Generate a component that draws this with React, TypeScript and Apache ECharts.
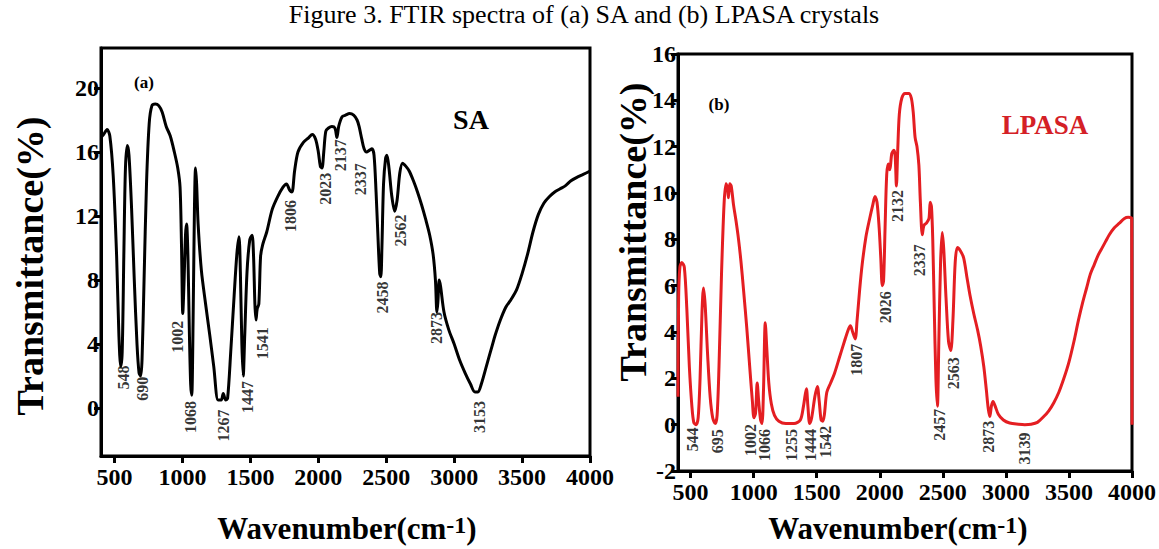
import React, { useEffect, useRef } from "react";
import * as echarts from "echarts";

const titleText = "Figure 3. FTIR spectra of (a) SA and (b) LPASA crystals";
const xTickValues = [500, 1000, 1500, 2000, 2500, 3000, 3500, 4000];
const saYTicks = [0, 4, 8, 12, 16, 20];
const lpYTicks = [-2, 0, 2, 4, 6, 8, 10, 12, 14, 16];

const saSpectrum: [number, number][] = [
  [400, 16.9], [420, 17.1], [445, 17.4], [465, 17.0], [490, 14.5], [515, 9.5], [532, 4.5], [545, 2.6],
  [556, 3.5], [568, 9.5], [580, 15.0], [594, 16.4], [606, 15.8], [625, 12.5], [645, 8.0], [665, 4.0],
  [680, 2.2], [692, 2.0], [702, 3.0], [717, 8.0], [735, 14.0], [755, 17.8], [775, 18.9], [800, 19.0],
  [825, 18.9], [850, 18.5], [880, 17.6], [910, 17.0], [940, 16.0], [965, 15.0], [982, 13.8], [993, 10.0],
  [1002, 5.9], [1010, 7.5], [1022, 10.8], [1030, 11.5], [1040, 9.5], [1050, 5.0], [1060, 1.5], [1068, 0.8],
  [1078, 5.5], [1088, 12.5], [1096, 15.0], [1104, 14.0], [1115, 11.5], [1139, 8.6], [1170, 6.5], [1200, 4.6],
  [1230, 2.6], [1262, 0.5], [1285, 0.5], [1300, 0.9], [1318, 0.5], [1332, 0.6], [1355, 3.5], [1380, 7.0],
  [1400, 9.6], [1416, 10.7], [1426, 8.5], [1437, 4.0], [1447, 2.0], [1458, 4.5], [1475, 8.5], [1495, 10.5],
  [1512, 10.8], [1523, 9.5], [1533, 6.5], [1541, 5.5], [1550, 6.2], [1562, 6.5], [1575, 9.5], [1590, 10.2],
  [1620, 11.0], [1660, 12.4], [1700, 13.2], [1740, 13.8], [1765, 14.0], [1790, 13.6], [1806, 13.5], [1825, 14.8],
  [1850, 16.0], [1890, 16.6], [1930, 16.9], [1955, 17.1], [1980, 16.8], [2000, 16.0], [2015, 15.1], [2027, 15.0],
  [2040, 16.0], [2055, 17.3], [2075, 17.5], [2100, 17.6], [2122, 17.5], [2137, 16.9], [2150, 17.6], [2175, 18.2],
  [2200, 18.3], [2230, 18.4], [2260, 18.3], [2285, 18.0], [2300, 17.6], [2320, 16.8], [2337, 16.2], [2355, 16.0],
  [2375, 16.1], [2395, 16.2], [2410, 15.8], [2425, 13.5], [2440, 10.5], [2452, 8.4], [2460, 8.2], [2468, 10.0],
  [2480, 14.0], [2495, 15.6], [2505, 15.8], [2520, 15.0], [2540, 13.3], [2562, 12.3], [2580, 13.0], [2600, 14.7],
  [2620, 15.3], [2645, 15.1], [2670, 14.8], [2700, 14.2], [2730, 13.5], [2760, 12.7], [2790, 11.8], [2820, 10.8],
  [2845, 9.6], [2862, 8.0], [2873, 6.0], [2880, 6.6], [2890, 8.0], [2900, 7.6], [2925, 6.0], [2960, 4.9],
  [3000, 4.0], [3040, 3.0], [3080, 2.2], [3120, 1.5], [3153, 1.0], [3175, 1.0], [3200, 1.5], [3240, 2.7],
  [3280, 3.9], [3300, 4.5], [3340, 5.5], [3380, 6.3], [3420, 6.8], [3460, 7.4], [3500, 8.4], [3540, 9.6],
  [3580, 11.0], [3620, 12.1], [3660, 12.8], [3700, 13.2], [3740, 13.5], [3780, 13.7], [3820, 13.9], [3860, 14.2],
  [3900, 14.4], [3950, 14.6], [4000, 14.8]
];

const lpasaSpectrum: [number, number][] = [
  [400, 1.2], [405, 5.5], [415, 6.8], [430, 7.0], [450, 6.8], [470, 5.0], [490, 2.5], [510, 0.8],
  [525, 0.1], [544, 0.0], [560, 0.3], [575, 2.0], [590, 4.8], [602, 5.9], [615, 5.2], [635, 3.0],
  [655, 1.2], [675, 0.3], [695, 0.05], [710, 0.4], [725, 2.5], [745, 6.5], [765, 9.5], [780, 10.4],
  [792, 10.2], [800, 9.8], [810, 10.4], [822, 10.3], [840, 9.5], [860, 8.8], [880, 8.0], [900, 7.0],
  [920, 5.8], [945, 4.2], [970, 2.4], [990, 1.0], [1002, 0.3], [1015, 0.5], [1028, 1.8], [1040, 1.0],
  [1055, 0.2], [1066, 0.05], [1078, 1.5], [1092, 4.4], [1105, 3.2], [1120, 1.8], [1140, 0.9], [1165, 0.4],
  [1200, 0.15], [1255, 0.05], [1320, 0.05], [1370, 0.2], [1395, 0.8], [1418, 1.55], [1430, 0.8], [1444, 0.05],
  [1460, 0.3], [1485, 1.2], [1505, 1.65], [1520, 1.0], [1535, 0.2], [1548, 0.15], [1560, 0.4], [1580, 1.4],
  [1610, 1.8], [1640, 2.2], [1680, 2.9], [1720, 3.6], [1750, 4.1], [1767, 4.27], [1785, 4.0], [1805, 3.7],
  [1820, 4.5], [1840, 5.8], [1860, 6.9], [1890, 8.1], [1920, 8.9], [1945, 9.5], [1962, 9.85], [1978, 9.6],
  [1995, 8.5], [2008, 7.2], [2020, 6.0], [2030, 6.2], [2042, 8.5], [2055, 10.8], [2068, 11.25], [2080, 11.0],
  [2095, 11.7], [2112, 11.85], [2122, 11.6], [2132, 10.3], [2142, 11.8], [2155, 13.4], [2175, 14.1], [2200, 14.3],
  [2230, 14.3], [2250, 14.1], [2265, 13.5], [2280, 12.4], [2295, 12.0], [2310, 11.2], [2322, 9.6], [2337, 8.2],
  [2350, 8.6], [2370, 8.7], [2390, 8.9], [2400, 9.6], [2410, 9.4], [2420, 8.0], [2432, 5.0], [2445, 2.0],
  [2457, 0.8], [2468, 3.5], [2482, 7.0], [2495, 8.3], [2507, 7.6], [2525, 5.5], [2545, 3.6], [2563, 3.2],
  [2580, 4.5], [2598, 7.0], [2615, 7.65], [2640, 7.5], [2665, 7.2], [2690, 6.4], [2715, 5.6], [2745, 4.8],
  [2775, 4.1], [2800, 3.4], [2825, 2.5], [2845, 1.5], [2860, 0.7], [2873, 0.35], [2885, 0.8], [2898, 1.0],
  [2915, 0.8], [2940, 0.45], [2980, 0.2], [3030, 0.07], [3100, 0.02], [3150, 0.0], [3200, 0.02], [3250, 0.1],
  [3300, 0.35], [3340, 0.6], [3380, 0.95], [3420, 1.4], [3460, 2.0], [3500, 2.7], [3540, 3.6], [3575, 4.5],
  [3610, 5.3], [3640, 5.9], [3670, 6.5], [3700, 6.9], [3730, 7.3], [3760, 7.6], [3790, 7.9], [3820, 8.2],
  [3860, 8.5], [3900, 8.7], [3940, 8.9], [3970, 8.95], [3998, 8.9], [4000, 0.0]
];

const saPeakLabels: [number, number, string][] = [
  [563, 1.9, "548"], [709, 1.2, "690"], [962, 4.45, "1002"], [1058, -0.56, "1068"], [1302, -1.1, "1267"],
  [1479, 0.68, "1447"], [1588, 4.05, "1541"], [1792, 12.0, "1806"], [2051, 13.7, "2023"], [2165, 15.8, "2137"],
  [2309, 14.3, "2337"], [2472, 6.9, "2458"], [2608, 11.1, "2562"], [2867, 5.0, "2873"], [3185, -0.56, "3153"]
];

const lpasaPeakLabels: [number, number, string][] = [
  [512, -0.64, "544"], [715, -0.72, "695"], [976, -0.66, "1002"], [1086, -0.88, "1066"], [1303, -0.88, "1255"],
  [1448, -0.88, "1444"], [1573, -0.74, "1542"], [1816, 2.8, "1807"], [2042, 5.07, "2026"], [2144, 9.44, "2132"],
  [2318, 7.1, "2337"], [2477, 0.0, "2457"], [2585, 2.22, "2563"], [2860, -0.52, "2873"], [3144, -1.03, "3139"]
];

const SERIF = '"Liberation Serif", "Times New Roman", serif';
const RED = "#e41e22";

function xAxisCfg(gridIndex: number) {
  return {
    type: "value" as const,
    gridIndex,
    min: 400,
    max: 4000,
    axisLine: { show: true, onZero: false, lineStyle: { color: "#000", width: 3 } },
    axisTick: { show: true, inside: false, length: 7, customValues: xTickValues, lineStyle: { color: "#000", width: 3 } },
    axisLabel: {
      customValues: xTickValues, formatter: (v: number) => String(v),
      fontFamily: SERIF, fontWeight: "bold", fontSize: 24, color: "#000", margin: 9,
    },
    splitLine: { show: false },
  };
}

function yAxisCfg(gridIndex: number, min: number, max: number, ticks: number[]) {
  return {
    type: "value" as const,
    gridIndex,
    min,
    max,
    axisLine: { show: true, onZero: false, lineStyle: { color: "#000", width: 3 } },
    axisTick: { show: true, inside: false, length: 7, customValues: ticks, lineStyle: { color: "#000", width: 3 } },
    axisLabel: {
      customValues: ticks, formatter: (v: number) => String(v),
      fontFamily: SERIF, fontWeight: "bold", fontSize: 24, color: "#000", margin: 2,
    },
    splitLine: { show: false },
  };
}

function peakSeries(idx: number, data: [number, number, string][]) {
  return {
    type: "scatter" as const,
    xAxisIndex: idx,
    yAxisIndex: idx,
    data,
    symbolSize: 2,
    itemStyle: { color: "rgba(0,0,0,0)" },
    silent: true,
    z: 5,
    label: {
      show: true,
      position: "inside" as const,
      rotate: 90,
      formatter: (p: any) => p.value[2],
      fontFamily: SERIF,
      fontWeight: "bold",
      fontSize: 16,
      color: "#000",
    },
  };
}

export default function App() {
  const ref = useRef<HTMLDivElement>(null);
  useEffect(() => {
    document.body.style.margin = "0";
    const chart = echarts.init(ref.current!, null, { renderer: "svg" });
    const xTitle = (x: number) => ({
      type: "text", x, y: 528,
      style: {
        text: "{a|Wavenumber(cm}{b|-1}{a|)}", align: "center", verticalAlign: "middle",
        rich: {
          a: { font: `bold 31px ${SERIF}`, fill: "#000", verticalAlign: "bottom" },
          b: { font: `bold 24px ${SERIF}`, fill: "#000", verticalAlign: "top" },
        },
      },
    });
    chart.setOption({
      animation: false,
      backgroundColor: "#fff",
      grid: [
        { left: 101, top: 48, width: 489, height: 408, show: true, borderColor: "#000", borderWidth: 3 },
        { left: 678, top: 54, width: 458, height: 417, show: true, borderColor: "#000", borderWidth: 3 },
      ],
      xAxis: [xAxisCfg(0), xAxisCfg(1)],
      yAxis: [yAxisCfg(0, -3, 22.5, saYTicks), yAxisCfg(1, -2, 16, lpYTicks)],
      series: [
        {
          type: "line",
          xAxisIndex: 0,
          yAxisIndex: 0,
          data: saSpectrum,
          showSymbol: false,
          smooth: 0.3,
          lineStyle: { color: "#000", width: 3 },
        },
        {
          type: "line",
          xAxisIndex: 1,
          yAxisIndex: 1,
          data: lpasaSpectrum,
          showSymbol: false,
          smooth: 0.3,
          lineStyle: { color: RED, width: 3 },
        },
        peakSeries(0, saPeakLabels),
        peakSeries(1, lpasaPeakLabels),
      ],
      graphic: [
        { type: "text", x: 584, y: 14, style: { text: titleText, font: `26px ${SERIF}`, fill: "#000", align: "center", verticalAlign: "middle" } },
        { type: "text", x: 30, y: 266, rotation: Math.PI / 2, style: { text: "Transmittance(%)", font: `bold 38px ${SERIF}`, fill: "#000", align: "center", verticalAlign: "middle" } },
        { type: "text", x: 633, y: 232, rotation: Math.PI / 2, style: { text: "Transmittance(%)", font: `bold 38px ${SERIF}`, fill: "#000", align: "center", verticalAlign: "middle" } },
        xTitle(347),
        xTitle(898),
        { type: "text", x: 144, y: 82, style: { text: "(a)", font: `bold 17px ${SERIF}`, fill: "#000", align: "center", verticalAlign: "middle" } },
        { type: "text", x: 719, y: 104, style: { text: "(b)", font: `bold 17px ${SERIF}`, fill: "#000", align: "center", verticalAlign: "middle" } },
        { type: "text", x: 471, y: 119, style: { text: "SA", font: `bold 28px ${SERIF}`, fill: "#000", align: "center", verticalAlign: "middle" } },
        { type: "text", x: 1045, y: 125, style: { text: "LPASA", font: `bold 27px ${SERIF}`, fill: "#d42026", align: "center", verticalAlign: "middle" } },
      ],
    });
    return () => chart.dispose();
  }, []);
  return <div ref={ref} style={{ position: "fixed", left: 0, top: 0, width: 1159, height: 549 }} />;
}
